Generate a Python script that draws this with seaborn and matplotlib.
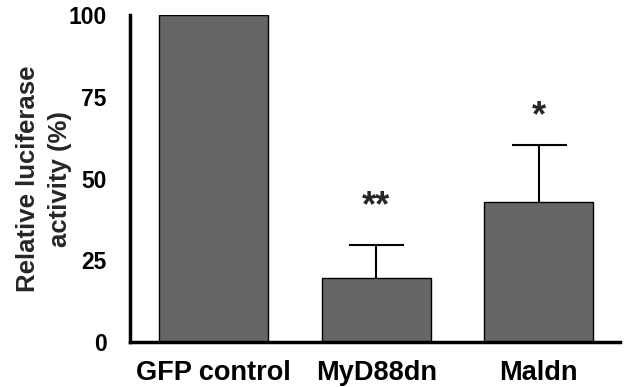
import matplotlib
matplotlib.use("Agg")
import matplotlib.pyplot as plt
import seaborn as sns
import pandas as pd

categories = ["GFP control", "MyD88dn", "Maldn"]
means = [100, 19.5, 43]
errors_up = [0, 10.3, 17.2]
significance = ["", "**", "*"]
yticks = [0, 25, 50, 75, 100]

sns.set_style("white")
plt.rcParams['font.family'] = ['Liberation Sans', 'DejaVu Sans']
plt.rcParams['font.weight'] = 'bold'

df = pd.DataFrame({"group": categories, "value": means})

fig = plt.figure(figsize=(6.25, 3.87), dpi=100)
ax = fig.add_axes([0.208, 0.1163, 0.784, 0.8437])

sns.barplot(data=df, x="group", y="value", color="#666666", saturation=1,
            width=0.67, edgecolor="black", linewidth=1.0, ax=ax, errorbar=None)

xs = list(range(len(categories)))
for i in xs:
    if errors_up[i] > 0:
        cont = ax.errorbar(i, means[i], yerr=[[0], [errors_up[i]]], fmt="none",
                           ecolor="black", elinewidth=1.5, capsize=19.8, capthick=1.5)
        caps = cont[1]
        if len(caps) == 2:
            caps[0].set_visible(False)

star_y = [0, 41.5, 69]
for i in xs:
    if significance[i]:
        ax.text(i, star_y[i], significance[i], ha="center", va="center",
                fontsize=26, fontweight="bold")

ax.set_ylim(0, 100)
ax.set_xlim(-0.515, 2.5)
ax.set_yticks(yticks)
ax.set_yticklabels([str(t) for t in yticks], fontsize=16.5, fontweight="bold")
ax.set_xticks(xs)
ax.set_xticklabels(categories, fontsize=19.5, fontweight="bold")
ax.set_xlabel("")
ax.set_ylabel("Relative luciferase\nactivity (%)", fontsize=18.5, fontweight="bold",
              linespacing=1.45, labelpad=-3)

for s in ["top", "right"]:
    ax.spines[s].set_visible(False)
for s in ["left", "bottom"]:
    ax.spines[s].set_linewidth(2.5)
    ax.spines[s].set_color("black")
ax.tick_params(axis="both", which="both", direction="out", length=5, width=2.5,
               color="black", labelcolor="black")
ax.tick_params(axis="y", pad=12)
ax.tick_params(axis="x", pad=8)

fig.savefig("out.png", dpi=100)
